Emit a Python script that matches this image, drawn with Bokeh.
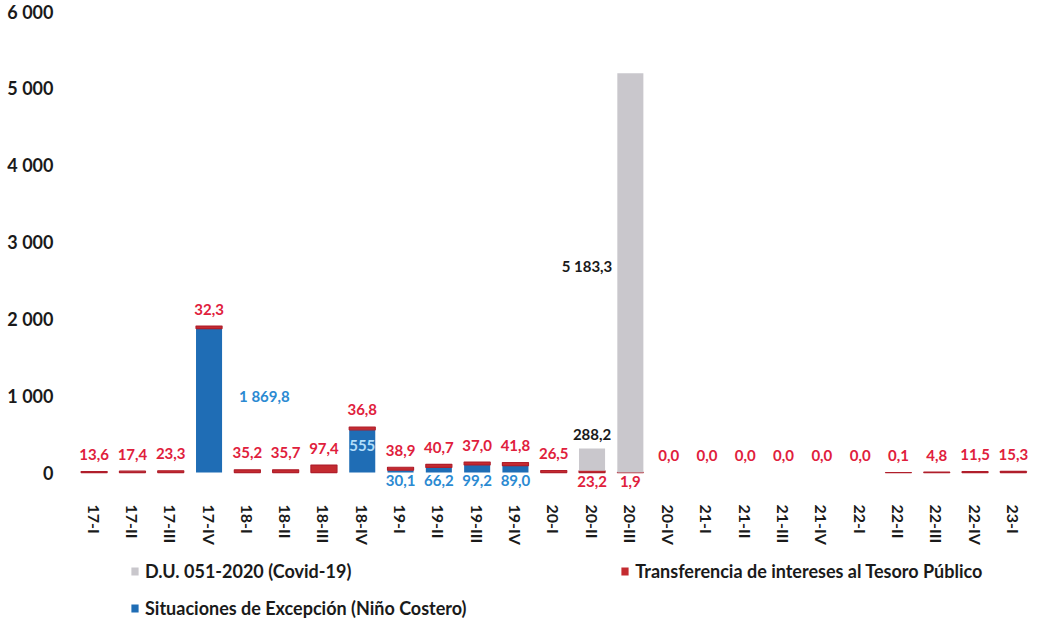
import numpy as np
from bokeh.plotting import figure
from bokeh.layouts import column
from bokeh.models import (ColumnDataSource, Range1d, FixedTicker, Legend, LegendItem,
                          LabelSet)
from bokeh.core.properties import value
from bokeh.embed import file_html
from bokeh.resources import INLINE

# ---------------- data ----------------
categories = ["17-I", "17-II", "17-III", "17-IV", "18-I", "18-II", "18-III", "18-IV",
              "19-I", "19-II", "19-III", "19-IV", "20-I", "20-II", "20-III", "20-IV",
              "21-I", "21-II", "21-III", "21-IV", "22-I", "22-II", "22-III", "22-IV", "23-I"]
excepcion = [0, 0, 0, 1869.8, 0, 0, 0, 555.0, 30.1, 66.2, 99.2, 89.0, 0, 0, 0, 0,
             0, 0, 0, 0, 0, 0, 0, 0, 0]
transferencia = [13.6, 17.4, 23.3, 32.3, 35.2, 35.7, 97.4, 36.8, 38.9, 40.7, 37.0, 41.8,
                 26.5, 23.2, 1.9, 0.0, 0.0, 0.0, 0.0, 0.0, 0.0, 0.1, 4.8, 11.5, 15.3]
covid = [0, 0, 0, 0, 0, 0, 0, 0, 0, 0, 0, 0, 0, 288.2, 5183.3, 0,
         0, 0, 0, 0, 0, 0, 0, 0, 0]
y_ticks = [0, 1000, 2000, 3000, 4000, 5000, 6000]
y_tick_labels = ["0", "1 000", "2 000", "3 000", "4 000", "5 000", "6 000"]

series_names = ["D.U. 051-2020 (Covid-19)",
                "Transferencia de intereses al Tesoro Público",
                "Situaciones de Excepción (Niño Costero)"]

# ---------------- styles ----------------
FONT = "Lato"
C_BLUE = "#1f6db5"
C_RED = "#c42b30"
C_GREY = "#c9c7cc"
T_RED = "#e0203c"
T_BLUE = "#2b8ad2"
T_INSIDE = "#b3defa"
T_DARK = "#1a1a1a"

# label placements (style only)
blue_side = {"17-IV": "right", "18-IV": "inside"}   # others: below the axis
red_below = {"20-II", "20-III"}                     # label under the zero line
grey_side = {"20-III": "left"}                      # others: above bar


def fmt(v):
    return f"{v:,.1f}".replace(",", " ").replace(".", ",")


n = len(categories)
xs = list(range(n))
b_top = [e for e in excepcion]
r_bot = b_top
r_top = [e + t for e, t in zip(excepcion, transferencia)]
g_bot = r_top
g_top = [s + c for s, c in zip(r_top, covid)]

src = ColumnDataSource(dict(
    x=xs, b_top=b_top, r_bot=r_bot, r_top=r_top, g_bot=g_bot, g_top=g_top,
    r_line=[1.0 if t > 0 else 0.0 for t in transferencia],
))

p = figure(frame_width=969, frame_height=488, output_backend="svg", toolbar_location=None,
           x_range=Range1d(-0.80, 24.50), y_range=Range1d(-233, 6104),
           min_border_left=63, min_border_right=0, min_border_top=2, min_border_bottom=52)
p.outline_line_color = None
p.background_fill_color = "white"
p.border_fill_color = "white"
p.xgrid.visible = False
p.ygrid.visible = False

W = 0.68
rb = p.vbar(x="x", bottom=0, top="b_top", width=W, source=src,
            fill_color=C_BLUE, line_color=None)
rr = p.vbar(x="x", bottom="r_bot", top="r_top", width=W, source=src,
            fill_color=C_RED, line_color="#b01e2b", line_width=1.2, line_alpha="r_line")
rg = p.vbar(x="x", bottom="g_bot", top="g_top", width=W, source=src,
            fill_color=C_GREY, line_color=None)

# axes
p.yaxis.ticker = FixedTicker(ticks=y_ticks)
p.yaxis.major_label_overrides = {t: l for t, l in zip(y_ticks, y_tick_labels)}
p.yaxis.axis_line_color = None
p.yaxis.major_tick_line_color = None
p.yaxis.minor_tick_line_color = None
p.yaxis.major_label_text_font = FONT
p.yaxis.major_label_text_font_style = "bold"
p.yaxis.major_label_text_font_size = "18px"
p.yaxis.major_label_text_color = T_DARK
p.yaxis.major_label_standoff = 4

p.xaxis.ticker = FixedTicker(ticks=xs)
p.xaxis.major_label_overrides = {i: c for i, c in enumerate(categories)}
p.xaxis.axis_line_color = None
p.xaxis.major_tick_line_color = None
p.xaxis.minor_tick_line_color = None
p.xaxis.major_label_orientation = "vertical"
p.xaxis.major_label_text_font = FONT
p.xaxis.major_label_text_font_style = "bold"
p.xaxis.major_label_text_font_size = "16px"
p.xaxis.major_label_text_color = T_DARK
p.xaxis.major_label_standoff = 8


def add_labels(d, color, align="center", baseline="middle"):
    s = ColumnDataSource(d)
    ls = LabelSet(x="x", y="y", text="t", x_offset="xo", y_offset="yo", source=s,
                  text_font=value(FONT), text_font_size="15px", text_font_style="bold",
                  text_color=color, text_align=align, text_baseline=baseline)
    p.add_layout(ls)


# red labels (transferencia)
d = dict(x=[], y=[], t=[], xo=[], yo=[])
for i, (c, v) in enumerate(zip(categories, transferencia)):
    d["x"].append(i)
    d["t"].append(fmt(v))
    d["xo"].append(0)
    if c in red_below:
        d["y"].append(0)
        d["yo"].append(-9)
    else:
        d["y"].append(r_top[i])
        d["yo"].append(17)
add_labels(d, T_RED)

# blue labels (excepcion)
d_c = dict(x=[], y=[], t=[], xo=[], yo=[])
d_l = dict(x=[], y=[], t=[], xo=[], yo=[])
d_in = dict(x=[], y=[], t=[], xo=[], yo=[])
for i, (c, v) in enumerate(zip(categories, excepcion)):
    if v <= 0:
        continue
    side = blue_side.get(c, "below")
    if side == "right":
        d_l["x"].append(i + W / 2); d_l["y"].append(v / 2)
        d_l["t"].append(fmt(v)); d_l["xo"].append(17); d_l["yo"].append(5)
    elif side == "inside":
        d_in["x"].append(i); d_in["y"].append(v / 2)
        d_in["t"].append(f"{v:.0f}"); d_in["xo"].append(0); d_in["yo"].append(6)
    else:
        d_c["x"].append(i); d_c["y"].append(0)
        d_c["t"].append(fmt(v)); d_c["xo"].append(0); d_c["yo"].append(-8)
add_labels(d_c, T_BLUE)
add_labels(d_l, T_BLUE, align="left")
add_labels(d_in, T_INSIDE)

# grey labels (covid)
d_a = dict(x=[], y=[], t=[], xo=[], yo=[])
d_r = dict(x=[], y=[], t=[], xo=[], yo=[])
for i, (c, v) in enumerate(zip(categories, covid)):
    if v <= 0:
        continue
    if grey_side.get(c) == "left":
        d_r["x"].append(i - W / 2); d_r["y"].append(g_bot[i] + v / 2)
        d_r["t"].append(fmt(v)); d_r["xo"].append(-5); d_r["yo"].append(7)
    else:
        d_a["x"].append(i); d_a["y"].append(g_top[i])
        d_a["t"].append(fmt(v)); d_a["xo"].append(0); d_a["yo"].append(14)
add_labels(d_a, T_DARK)
add_labels(d_r, T_DARK, align="right")

# ---------------- legend strip (separate figure under the chart) ----------------
pl = figure(frame_width=975, frame_height=72, output_backend="svg", toolbar_location=None,
            x_range=Range1d(0, 1), y_range=Range1d(0, 1),
            x_axis_location=None, y_axis_location=None,
            min_border_left=57, min_border_right=0, min_border_top=0, min_border_bottom=0)
pl.outline_line_color = None
pl.xgrid.visible = False
pl.ygrid.visible = False


def swatch(color):
    s = ColumnDataSource(dict(x=np.array([np.nan]), top=np.array([np.nan])))
    return pl.vbar(x="x", top="top", width=0.5, source=s, fill_color=color, line_color=None)


lg, lr, lb = swatch(C_GREY), swatch(C_RED), swatch(C_BLUE)

leg_style = dict(label_text_font=FONT, label_text_font_style="bold",
                 label_text_font_size="18px", label_text_color=T_DARK,
                 glyph_width=9, glyph_height=10, label_standoff=6, label_height=16,
                 margin=0, padding=0, border_line_color=None, background_fill_alpha=0,
                 orientation="horizontal")
legend1 = Legend(items=[LegendItem(label=series_names[0], renderers=[lg]),
                        LegendItem(label=series_names[1], renderers=[lr])],
                 spacing=269, location=(111, 37), **leg_style)
legend2 = Legend(items=[LegendItem(label=series_names[2], renderers=[lb])],
                 spacing=0, location=(111, 0), **leg_style)
pl.add_layout(legend1, "center")
pl.add_layout(legend2, "center")

layout = column(p, pl, spacing=0)
open("out.html", "w").write(file_html(layout, INLINE))
